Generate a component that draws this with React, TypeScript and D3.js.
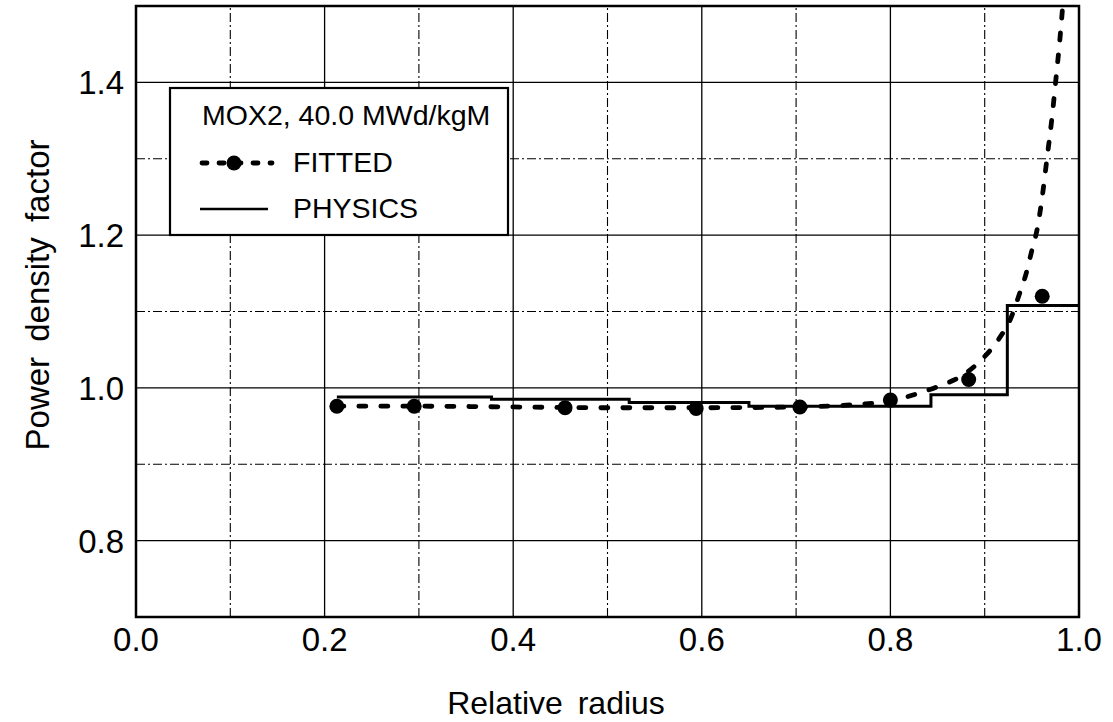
import * as d3 from "d3";

// values
const xTicks = [0.0, 0.2, 0.4, 0.6, 0.8, 1.0];
const xMinor = [0.1, 0.3, 0.5, 0.7, 0.9];
const yTicks = [0.8, 1.0, 1.2, 1.4];
const yMinor = [0.9, 1.1, 1.3];

// PHYSICS: step profile, ring edges and the value in each ring
const physicsEdges = [0.213, 0.377, 0.523, 0.65, 0.843, 0.924, 1.0];
const physicsValues = [0.988, 0.985, 0.981, 0.976, 0.991, 1.108];

// FITTED: measured points and the fitted curve through them
const fittedR = [0.213, 0.295, 0.455, 0.594, 0.704, 0.8, 0.883, 0.961];
const fittedV = [0.976, 0.976, 0.974, 0.973, 0.975, 0.984, 1.011, 1.12];
const curveR = [0.213, 0.3, 0.4, 0.5, 0.6, 0.7, 0.76, 0.8, 0.83, 0.853, 0.876, 0.895, 0.915, 0.928, 0.936, 0.944, 0.95, 0.956, 0.961, 0.966, 0.971, 0.976, 0.98, 0.984];
const curveV = [0.976, 0.976, 0.975, 0.974, 0.974, 0.975, 0.978, 0.983, 0.993, 1.003, 1.016, 1.035, 1.064, 1.092, 1.12, 1.15, 1.18, 1.21, 1.25, 1.3, 1.35, 1.41, 1.46, 1.52];

const W = 1113;
const H = 722;
const font = "'Liberation Sans', Arial, Helvetica, sans-serif";

export default function App() {
  const x = d3.scaleLinear().domain([0, 1]).range([136, 1079]);
  const y = d3.scaleLinear().domain([0.7, 1.5]).range([617, 6]);
  const [x0, x1] = x.range();
  const [y0, y1] = y.range();

  const stepPts: [number, number][] = [];
  physicsValues.forEach((v, i) => {
    stepPts.push([physicsEdges[i], v]);
    stepPts.push([physicsEdges[i + 1], v]);
  });
  const stepLine = d3.line<[number, number]>().x(d => x(d[0])).y(d => y(d[1]));

  const fitLine = d3
    .line<number>()
    .x(d => x(curveR[d]))
    .y(d => y(curveV[d]))
    .curve(d3.curveMonotoneX);

  const dashFit = "7 15";
  const dashDot = "9 3 2 3";

  return (
    <svg width={W} height={H} style={{ position: "absolute", left: 0, top: 0, background: "#fff" }}>
      <defs>
        <clipPath id="plot">
          <rect x={x0} y={y1} width={x1 - x0} height={y0 - y1} />
        </clipPath>
      </defs>

      {/* grid */}
      {xTicks.map(t => (
        <line key={"xg" + t} x1={x(t)} x2={x(t)} y1={y0} y2={y1} stroke="#000" strokeWidth={1.3} />
      ))}
      {xMinor.map(t => (
        <line key={"xm" + t} x1={x(t)} x2={x(t)} y1={y0} y2={y1} stroke="#000" strokeWidth={1.1} strokeDasharray={dashDot} />
      ))}
      {yTicks.map(t => (
        <line key={"yg" + t} x1={x0} x2={x1} y1={y(t)} y2={y(t)} stroke="#000" strokeWidth={1.3} />
      ))}
      {yMinor.map(t => (
        <line key={"ym" + t} x1={x0} x2={x1} y1={y(t)} y2={y(t)} stroke="#000" strokeWidth={1.1} strokeDasharray={dashDot} />
      ))}

      <g clipPath="url(#plot)">
        <path d={stepLine(stepPts) || ""} fill="none" stroke="#000" strokeWidth={3} />
        <path
          d={fitLine(d3.range(curveR.length)) || ""}
          fill="none"
          stroke="#000"
          strokeWidth={4.8}
          strokeLinecap="round"
          strokeDasharray={dashFit}
        />
        {fittedR.map((r, i) => (
          <circle key={"p" + i} cx={x(r)} cy={y(fittedV[i])} r={7.5} fill="#000" />
        ))}
      </g>

      {/* frame */}
      <rect x={x0} y={y1} width={x1 - x0} height={y0 - y1} fill="none" stroke="#000" strokeWidth={2.5} />

      {/* legend */}
      <rect x={170} y={88} width={338} height={147} fill="#fff" stroke="#000" strokeWidth={2.2} />
      <text x={202} y={125} fontFamily={font} fontSize={28.5}>MOX2, 40.0 MWd/kgM</text>
      <line x1={202} x2={272} y1={163} y2={163} stroke="#000" strokeWidth={4.8} strokeLinecap="round" strokeDasharray="5 12" />
      <circle cx={234} cy={163} r={7.5} fill="#000" />
      <text x={293} y={172} fontFamily={font} fontSize={28.5}>FITTED</text>
      <line x1={200} x2={268} y1={209} y2={209} stroke="#000" strokeWidth={2.5} />
      <text x={293} y={218} fontFamily={font} fontSize={28.5}>PHYSICS</text>

      {/* axes labels */}
      {xTicks.map(t => (
        <text key={"xt" + t} x={x(t)} y={651} textAnchor="middle" fontFamily={font} fontSize={33}>
          {d3.format(".1f")(t)}
        </text>
      ))}
      {yTicks.map(t => (
        <text key={"yt" + t} x={124} y={y(t) + 12} textAnchor="end" fontFamily={font} fontSize={33}>
          {d3.format(".1f")(t)}
        </text>
      ))}
      <text x={556} y={714} textAnchor="middle" fontFamily={font} fontSize={32} wordSpacing={6}>
        Relative radius
      </text>
      <text
        transform={`translate(49, ${295}) rotate(-90)`}
        textAnchor="middle"
        fontFamily={font}
        fontSize={33}
        wordSpacing={6}
      >
        Power density factor
      </text>
    </svg>
  );
}
